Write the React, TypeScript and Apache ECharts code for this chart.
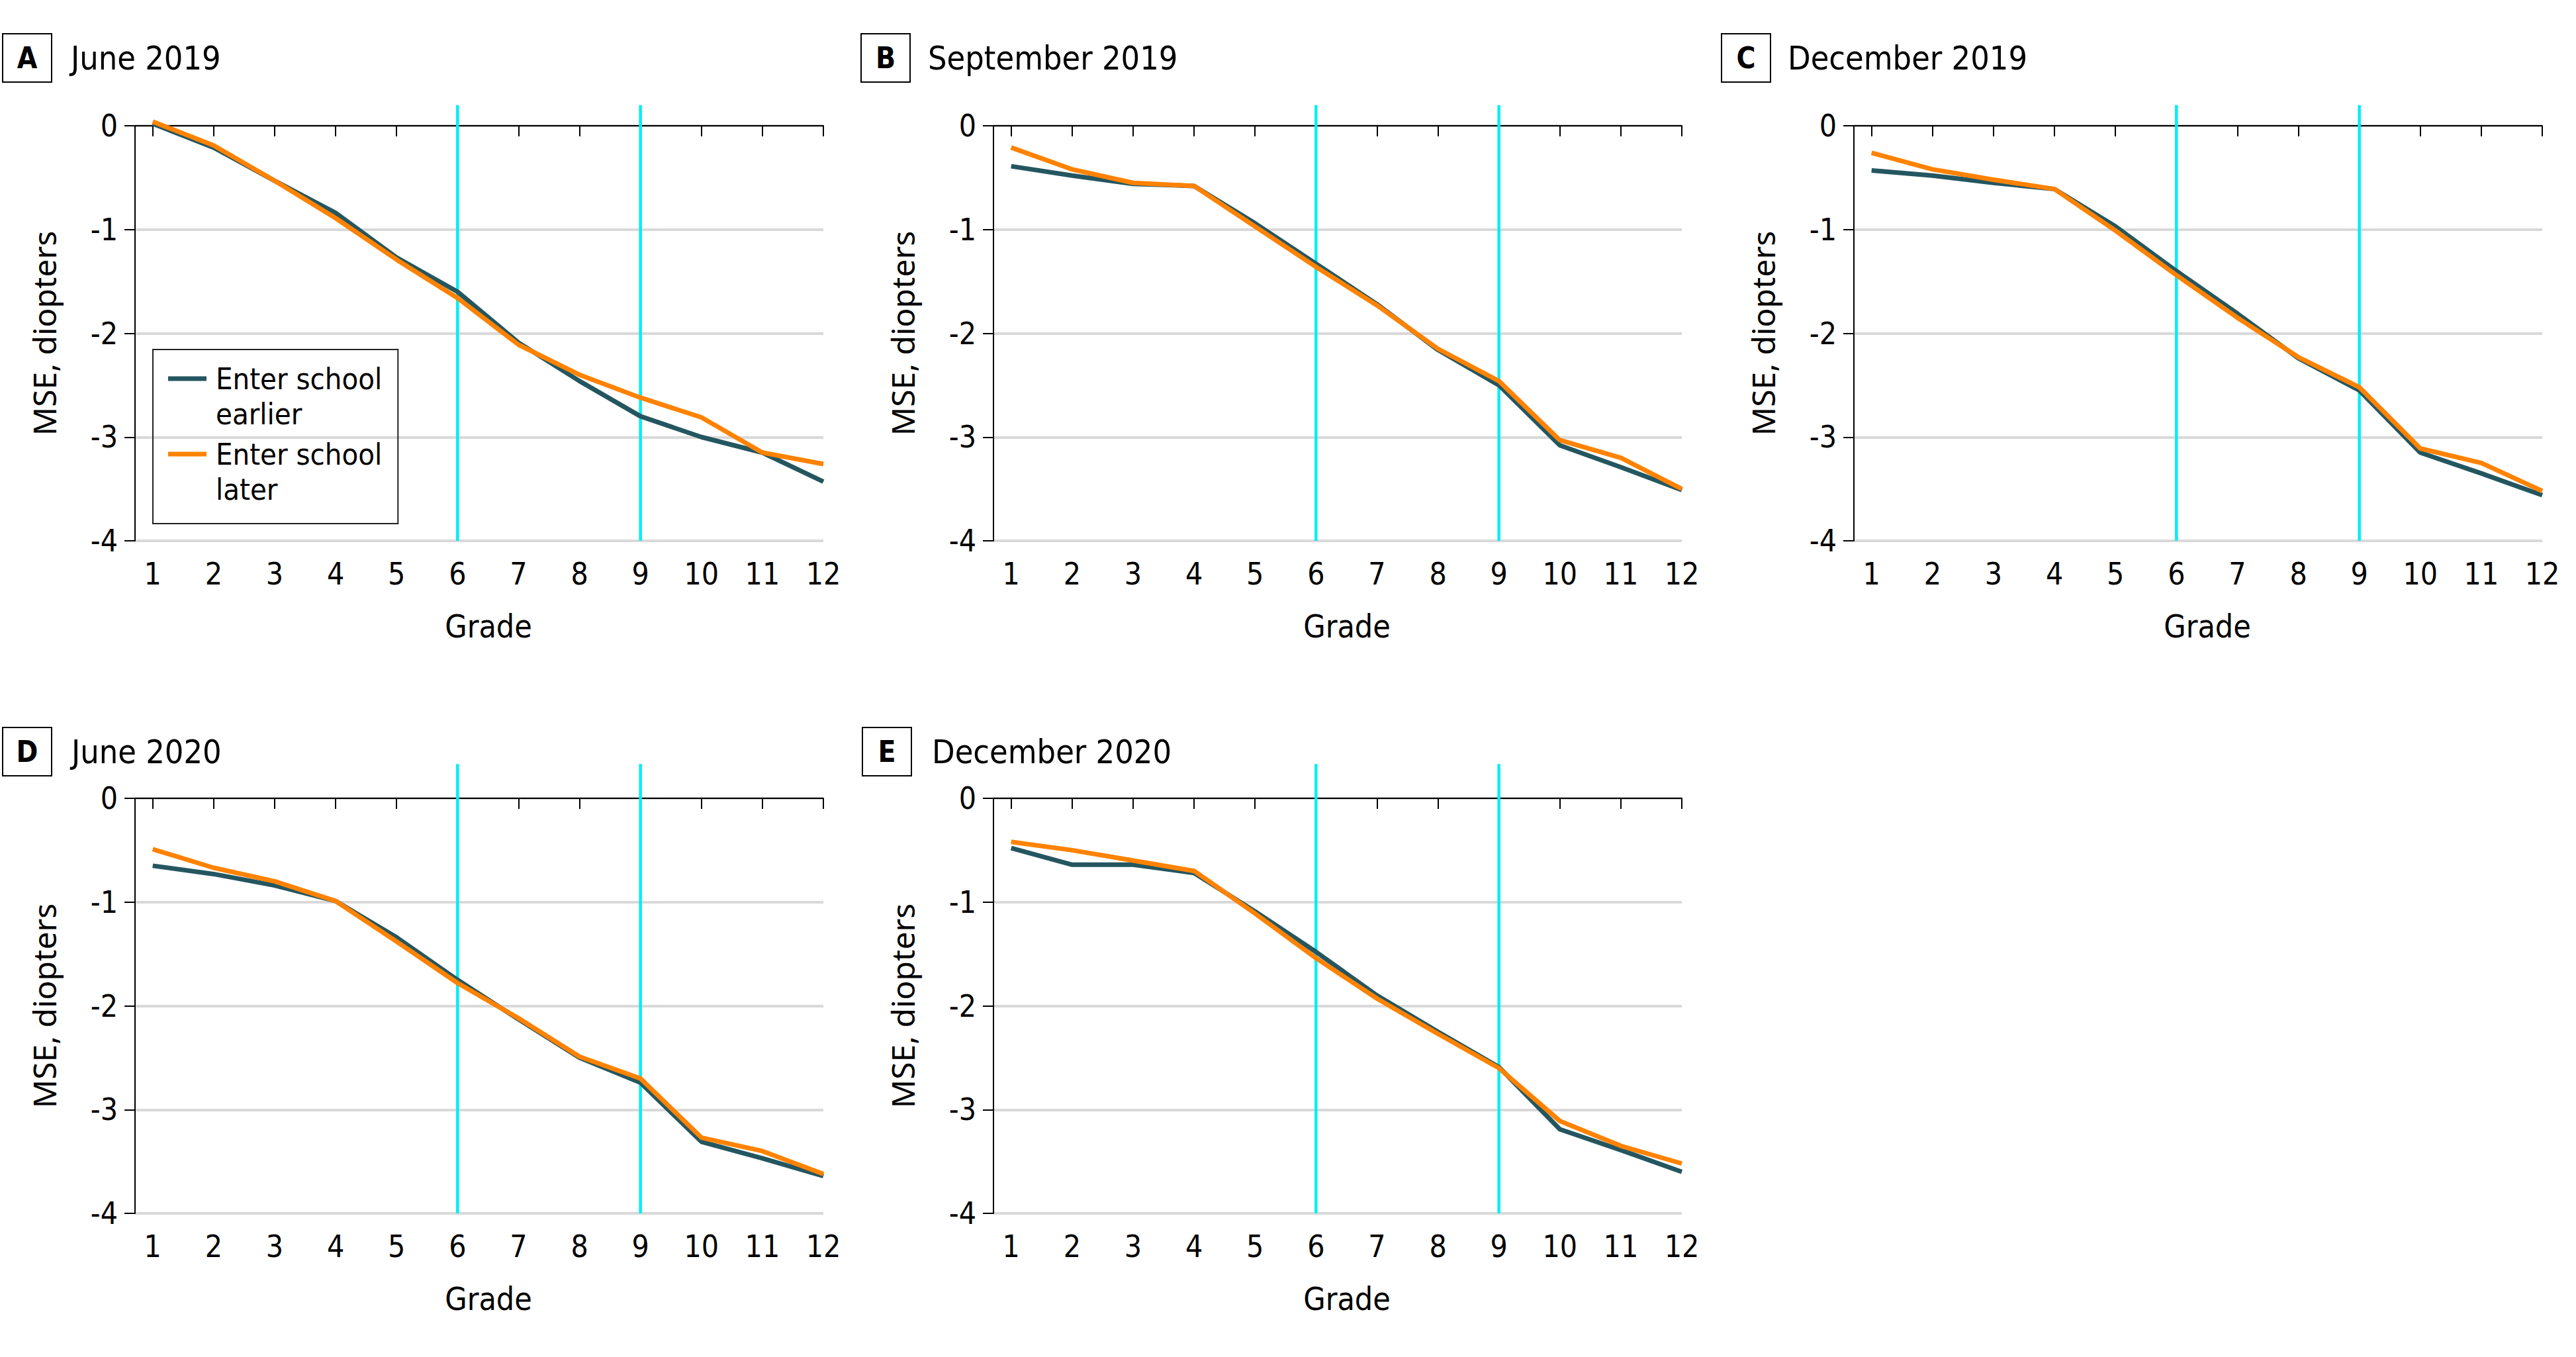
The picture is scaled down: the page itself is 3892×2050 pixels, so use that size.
import React, { useEffect, useRef } from "react";
import * as echarts from "echarts";

// ---------- data ----------
const grades = [1, 2, 3, 4, 5, 6, 7, 8, 9, 10, 11, 12];
const panelLetters = ["A", "B", "C", "D", "E"];
const panelTitles = ["June 2019", "September 2019", "December 2019", "June 2020", "December 2020"];
const seriesNames = ["Enter school earlier", "Enter school later"];
const legendLabels = ["Enter school\nearlier", "Enter school\nlater"];
const yMin = -4;
const yMax = 0;
const yInterval = 1;
const cutoffGrades = [6, 9];
const cutoffTop = [0.2, 0.2, 0.2, 0.33, 0.33];

const earlierJune2019 = [0.02, -0.21, -0.53, -0.84, -1.27, -1.6, -2.09, -2.46, -2.8, -3.0, -3.15, -3.43];
const laterJune2019 = [0.04, -0.19, -0.53, -0.89, -1.29, -1.66, -2.11, -2.4, -2.62, -2.81, -3.15, -3.26];
const earlierSep2019 = [-0.39, -0.48, -0.56, -0.58, -0.94, -1.33, -1.72, -2.16, -2.5, -3.08, -3.29, -3.51];
const laterSep2019 = [-0.21, -0.42, -0.55, -0.58, -0.97, -1.36, -1.73, -2.15, -2.46, -3.03, -3.2, -3.5];
const earlierDec2019 = [-0.43, -0.48, -0.55, -0.61, -0.97, -1.4, -1.81, -2.24, -2.55, -3.15, -3.35, -3.56];
const laterDec2019 = [-0.26, -0.42, -0.52, -0.61, -1.01, -1.44, -1.85, -2.23, -2.52, -3.11, -3.25, -3.52];
const earlierJune2020 = [-0.65, -0.73, -0.84, -0.99, -1.34, -1.75, -2.13, -2.5, -2.74, -3.31, -3.47, -3.64];
const laterJune2020 = [-0.49, -0.67, -0.8, -0.99, -1.38, -1.78, -2.12, -2.49, -2.7, -3.27, -3.4, -3.62];
const earlierDec2020 = [-0.48, -0.64, -0.64, -0.72, -1.09, -1.48, -1.9, -2.25, -2.59, -3.19, -3.39, -3.6];
const laterDec2020 = [-0.42, -0.5, -0.6, -0.7, -1.11, -1.54, -1.93, -2.27, -2.6, -3.11, -3.35, -3.52];

const earlierByPanel = [earlierJune2019, earlierSep2019, earlierDec2019, earlierJune2020, earlierDec2020];
const laterByPanel = [laterJune2019, laterSep2019, laterDec2019, laterJune2020, laterDec2020];

// ---------- styling / layout ----------
const FONT_COND = "'DejaVu Sans Condensed', 'Liberation Sans Narrow', sans-serif";
const FONT_NAME = "'Noto Sans', 'Open Sans', sans-serif";
const COLOR_EARLY = "#245660";
const COLOR_LATE = "#ff8200";
const COLOR_CUT = "#00eef5";

const layout = [
  { left: 204, top: 190, boxX: 4, boxY: 51, titleX: 107 },
  { left: 1501, top: 190, boxX: 1301, boxY: 51, titleX: 1402 },
  { left: 2801, top: 190, boxX: 2601, boxY: 51, titleX: 2701 },
  { left: 204, top: 1206, boxX: 4, boxY: 1099, titleX: 108 },
  { left: 1501, top: 1206, boxX: 1303, boxY: 1099, titleX: 1408 },
];
const GRID_W = 1040;
const GRID_H = 627;
const BOX_W = 74;
const BOX_H = 73;
const TITLE_SIZE = 50;

function buildOption() {
  const grid: any[] = [];
  const xAxis: any[] = [];
  const yAxis: any[] = [];
  const series: any[] = [];
  const title: any[] = [];
  const graphic: any[] = [];

  panelTitles.forEach((t, i) => {
    const L = layout[i];
    grid.push({ left: L.left, top: L.top, width: GRID_W, height: GRID_H, containLabel: false });
    xAxis.push({
      type: "value",
      gridIndex: i,
      min: 0.71,
      max: 12,
      name: "Grade",
      nameLocation: "middle",
      nameGap: 105,
      nameTextStyle: { fontFamily: FONT_COND, fontSize: 48, color: "#000", padding: [0, 0, 0, 28] },
      axisLine: { show: true, lineStyle: { color: "#000", width: 2 } },
      axisTick: { show: true, length: 16, lineStyle: { color: "#000", width: 2 }, customValues: grades },
      axisLabel: { margin: 27, fontFamily: FONT_COND, fontSize: 46, color: "#000", customValues: grades },
      splitLine: { show: false },
    });
    yAxis.push({
      type: "value",
      gridIndex: i,
      min: yMin,
      max: yMax,
      interval: yInterval,
      name: "MSE, diopters",
      nameLocation: "middle",
      nameGap: 114,
      nameTextStyle: { fontFamily: FONT_NAME, fontSize: 48, color: "#000" },
      axisLine: { show: true, lineStyle: { color: "#000", width: 2 } },
      axisTick: { show: true, length: 16, lineStyle: { color: "#000", width: 2 } },
      axisLabel: { margin: 26, fontFamily: FONT_COND, fontSize: 46, color: "#000" },
      splitLine: { show: true, lineStyle: { color: "#d9d9d9", width: 4 } },
    });
    cutoffGrades.forEach((g) => {
      series.push({
        type: "line",
        xAxisIndex: i,
        yAxisIndex: i,
        data: [
          [g, yMin],
          [g, cutoffTop[i]],
        ],
        clip: false,
        symbol: "none",
        silent: true,
        lineStyle: { color: COLOR_CUT, width: 4.5 },
        itemStyle: { color: COLOR_CUT },
        z: 1,
      });
    });
    series.push({
      type: "line",
      name: seriesNames[0],
      xAxisIndex: i,
      yAxisIndex: i,
      data: grades.map((g, k) => [g, earlierByPanel[i][k]]),
      symbol: "none",
      clip: false,
      color: COLOR_EARLY,
      itemStyle: { color: COLOR_EARLY },
      lineStyle: { color: COLOR_EARLY, width: 7 },
      z: 3,
    });
    series.push({
      type: "line",
      name: seriesNames[1],
      xAxisIndex: i,
      yAxisIndex: i,
      data: grades.map((g, k) => [g, laterByPanel[i][k]]),
      symbol: "none",
      clip: false,
      color: COLOR_LATE,
      itemStyle: { color: COLOR_LATE },
      lineStyle: { color: COLOR_LATE, width: 7 },
      z: 4,
    });
    title.push({
      text: t,
      left: L.titleX,
      top: L.boxY + BOX_H / 2 - TITLE_SIZE / 2,
      padding: 0,
      textStyle: { fontFamily: FONT_COND, fontSize: TITLE_SIZE, fontWeight: "normal", color: "#000" },
    });
    graphic.push({
      type: "group",
      children: [
        {
          type: "rect",
          shape: { x: L.boxX, y: L.boxY, width: BOX_W, height: BOX_H },
          style: { fill: "none", stroke: "#000", lineWidth: 2 },
        },
        {
          type: "text",
          x: L.boxX + BOX_W / 2,
          y: L.boxY + BOX_H / 2,
          style: {
            text: panelLetters[i],
            fontFamily: FONT_COND,
            fontSize: 44,
            fontWeight: "bold",
            fill: "#000",
            align: "center",
            verticalAlign: "middle",
            textAlign: "center",
            textVerticalAlign: "middle",
          },
        },
      ],
    });
  });

  return {
    animation: false,
    backgroundColor: "#fff",
    grid,
    xAxis,
    yAxis,
    series,
    title,
    graphic,
    legend: {
      data: seriesNames,
      orient: "vertical",
      left: 231,
      top: 528,
      padding: [18, 24, 25, 23],
      itemGap: 8,
      itemWidth: 58,
      itemHeight: 61,
      icon: "path://M0,0L58,0L58,7L0,7Z M0,60.9L0.1,60.9L0.1,61L0,61Z",
      itemStyle: { borderWidth: 0 },
      borderColor: "#222",
      borderWidth: 2,
      selectedMode: false,
      formatter: (n: string) => legendLabels[seriesNames.indexOf(n)],
      textStyle: { fontFamily: FONT_COND, fontSize: 45, lineHeight: 53, color: "#000", padding: [0, 0, 0, 9] },
    },
  };
}

export default function App() {
  const ref = useRef<HTMLDivElement>(null);
  useEffect(() => {
    if (!ref.current) return;
    const chart = echarts.init(ref.current, undefined, { renderer: "svg" });
    chart.setOption(buildOption() as any);
    return () => chart.dispose();
  }, []);
  return (
    <div
      ref={ref}
      style={{ position: "absolute", left: 0, top: 0, width: 3892, height: 2050, background: "#fff" }}
    />
  );
}
